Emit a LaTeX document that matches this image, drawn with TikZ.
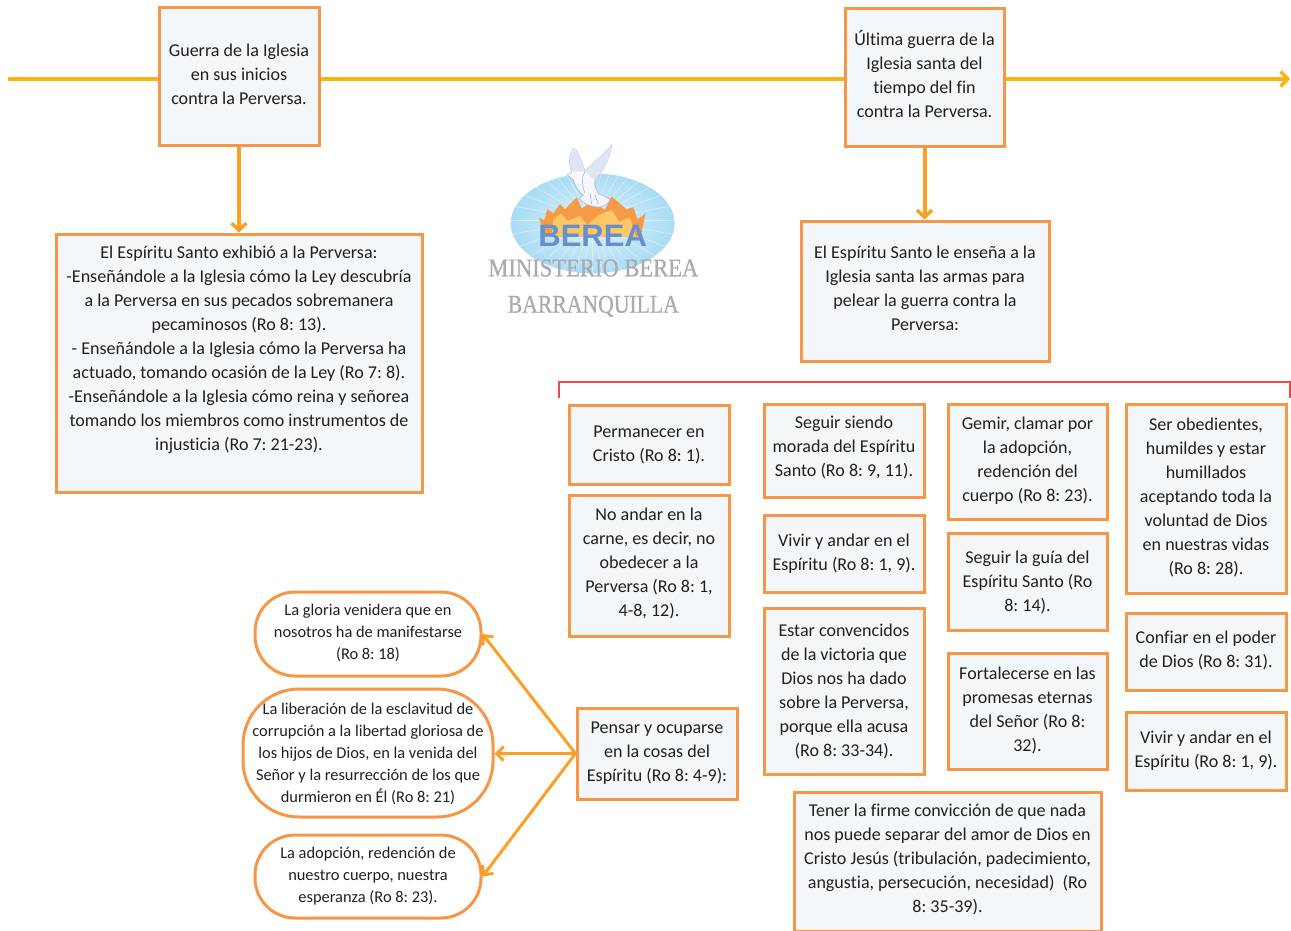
\documentclass[tikz,border=0pt]{standalone}
\usepackage{fontspec}
\usepackage{graphicx}
\setmainfont[Ligatures=NoCommon]{Carlito}
\newfontfamily\logoserif[FakeBold=0.7]{Liberation Serif}
\newfontfamily\logosans{Liberation Sans}
\usetikzlibrary{arrows.meta,shadings}
\definecolor{boxline}{HTML}{F79646}
\definecolor{boxfill}{HTML}{F3F7F9}
\definecolor{tline}{HTML}{FFB114}
\definecolor{arrowline}{HTML}{FBA024}
\definecolor{bracketred}{HTML}{F0474B}
\definecolor{logoblue}{HTML}{6690CB}
\definecolor{logogrey}{HTML}{ABABAB}
\definecolor{textgrey}{HTML}{202020}
\definecolor{skyin}{HTML}{DDF1FB}
\definecolor{skyout}{HTML}{A9DCF5}
\definecolor{flameout}{HTML}{F79A45}
\definecolor{flamein}{HTML}{FDC765}
\definecolor{doveedge}{HTML}{A9B5D6}
\definecolor{dovewing}{HTML}{DFE5F4}
\tikzset{
  sqbox/.style={draw=boxline,line width=3pt,fill=boxfill,inner sep=0pt,text=textgrey,font=\frenchspacing\fontsize{18.05}{24}\selectfont},
  rdbox/.style={draw=boxline,line width=3pt,fill=white,inner sep=0pt,text=textgrey,font=\frenchspacing\fontsize{16.4}{22}\selectfont},
  timeline/.style={draw=tline,line width=4pt,-{Straight Barb[length=7pt,width=15pt,line width=3.5pt]}},
  plainline/.style={draw=tline,line width=4pt},
  downarrow/.style={draw=arrowline,line width=4pt,-{Straight Barb[length=7pt,width=15pt,line width=3.5pt]}},
  feeder/.style={draw=arrowline,line width=3pt,-{Straight Barb[length=7pt,width=14pt,line width=3pt]}},
  logotext/.style={inner sep=0pt,text=logogrey},
}
% style, name, x0, y0, x1, y1, bottom extra, text
\newcommand{\bx}[8]{%
  \pgfmathsetmacro{\wid}{#5-#3}\pgfmathsetmacro{\hei}{#6-#4}%
  \pgfmathsetmacro{\cx}{(#3+#5)/2}\pgfmathsetmacro{\cy}{(#4+#6)/2}%
  \pgfmathsetmacro{\tw}{#5-#3-4}%
  \node[#1,minimum width=\wid pt,minimum height=\hei pt,text width=\tw pt,align=center] (#2) at (\cx,\cy) {\spaceskip=.226em\relax #8\par\vspace*{#7pt}};%
}
\begin{document}
\begin{tikzpicture}[x=1pt,y=-1pt]
\useasboundingbox (0,0) rectangle (1291,931);
\fill[white] (0,0) rectangle (1291,931);

% logo
\begin{scope}[shift={(470,130)},x=0.3333pt,y=-0.3333pt]
  \shade[inner color=skyin,outer color=skyout] (368,280) ellipse [x radius=246,y radius=150];
  \begin{scope}
    \clip (368,280) ellipse [x radius=246,y radius=150];
    \foreach \a in {0,10,...,350}{\draw[white,opacity=.4,line width=.7pt] (368,270) -- ++(\a:300);}
  \end{scope}
  \fill[flameout] (207,262) -- (222,272) -- (232,238) -- (250,250) -- (270,222) -- (285,238) -- (320,202) -- (335,235) -- (368,215) -- (405,240) -- (425,200) -- (470,238) -- (490,232) -- (503,268) -- (527,250) -- (512,320) -- (225,320) -- cycle;
  \fill[flamein] (245,320) -- (250,268) -- (272,250) -- (292,272) -- (330,258) -- (352,285) -- (385,255) -- (425,240) -- (448,275) -- (480,262) -- (498,320) -- cycle;
  \node[inner sep=0pt,text=logoblue,font={\logosans\bfseries\fontsize{31}{31}\selectfont}] (logoberea) at (368,317) {BEREA};
  \shade[top color=white,bottom color=white!85!doveedge,draw=doveedge,line width=.6pt] (345,125) .. controls (330,80) and (325,62) .. (310,55) .. controls (298,75) and (295,100) .. (305,125) -- (292,135) -- (310,150) .. controls (318,175) and (330,190) .. (340,195) -- (328,205) .. controls (340,225) and (380,235) .. (395,230) .. controls (410,225) and (420,215) .. (420,208) -- (385,190) .. controls (375,175) and (372,160) .. (375,150) .. controls (400,120) and (420,85) .. (425,45) .. controls (400,75) and (365,100) .. (345,125) -- cycle;
  \fill[dovewing] (345,125) .. controls (330,80) and (325,62) .. (310,55) .. controls (298,75) and (295,100) .. (305,125) -- cycle;
  \fill[dovewing] (375,150) .. controls (400,120) and (420,85) .. (425,45) .. controls (400,75) and (365,100) .. (345,125) -- cycle;
  \draw[doveedge,line width=.6pt] (345,125) .. controls (335,140) and (335,165) .. (345,190);
  \draw[doveedge,line width=.6pt] (360,190) -- (365,222) (375,195) -- (385,222);
  \node[logotext,font={\logoserif\fontsize{25.5}{26}\selectfont}] (logoline) at (370,414) {\scalebox{.885}[1]{MINISTERIO BEREA}};
  \node[logotext,font={\logoserif\fontsize{25.5}{26}\selectfont}] (logocity) at (370,529) {\scalebox{.85}[1]{BARRANQUILLA}};
\end{scope}

\bx{sqbox}{a}{159}{8}{319}{146}{6}{Guerra de la Iglesia\\en sus inicios\\contra la Perversa.}
\bx{sqbox}{b}{845}{9}{1004}{147}{8}{Última guerra de la\\Iglesia santa del\\tiempo del fin\\contra la Perversa.}
\bx{sqbox}{c}{56}{234}{422}{492}{26}{El Espíritu Santo exhibió a la Perversa:\\-Enseñándole a la Iglesia cómo la Ley descubría\\a la Perversa en sus pecados sobremanera\\pecaminosos (Ro 8: 13).\\- Enseñándole a la Iglesia cómo la Perversa ha\\actuado, tomando ocasión de la Ley (Ro 7: 8).\\-Enseñándole a la Iglesia cómo reina y señorea\\tomando los miembros como instrumentos de\\injusticia (Ro 7: 21-23).}
\bx{sqbox}{d}{801}{221}{1049}{361}{6}{El Espíritu Santo le enseña a la\\Iglesia santa las armas para\\pelear la guerra contra la\\Perversa:}
\bx{sqbox}{e}{569}{405}{729}{484}{0}{Permanecer en\\Cristo (Ro 8: 1).}
\bx{sqbox}{f}{569}{495}{729}{636}{4}{No andar en la\\carne, es decir, no\\obedecer a la\\Perversa (Ro 8: 1,\\4-8, 12).}
\bx{sqbox}{g}{764}{404}{924}{497}{6}{Seguir siendo\\morada del Espíritu\\Santo (Ro 8: 9, 11).}
\bx{sqbox}{h}{764}{515}{924}{592}{0}{Vivir y andar en el\\Espíritu (Ro 8: 1, 9).}
\bx{sqbox}{i}{764}{608}{924}{774}{0}{Estar convencidos\\de la victoria que\\Dios nos ha dado\\sobre la Perversa,\\porque ella acusa\\(Ro 8: 33-34).}
\bx{sqbox}{j}{948}{404}{1107}{519}{2}{Gemir, clamar por\\la adopción,\\redención del\\cuerpo (Ro 8: 23).}
\bx{sqbox}{k}{948}{533}{1107}{630}{-2}{Seguir la guía del\\Espíritu Santo (Ro\\8: 14).}
\bx{sqbox}{l}{948}{653}{1107}{769}{2}{Fortalecerse en las\\promesas eternas\\del Señor (Ro 8:\\32).}
\bx{sqbox}{m}{1126}{404}{1286}{593}{3}{Ser obedientes,\\humildes y estar\\humillados\\aceptando toda la\\voluntad de Dios\\en nuestras vidas\\(Ro 8: 28).}
\bx{sqbox}{n}{1126}{613}{1286}{690}{2}{Confiar en el poder\\de Dios (Ro 8: 31).}
\bx{sqbox}{o}{1126}{712}{1286}{790}{0}{Vivir y andar en el\\Espíritu (Ro 8: 1, 9).}
\bx{sqbox}{p}{794}{792}{1101}{931}{4}{Tener la firme convicción de que nada\\nos puede separar del amor de Dios en\\Cristo Jesús (tribulación, padecimiento,\\angustia, persecución, necesidad)\ \ (Ro\\8: 35-39).}
\bx{sqbox}{q}{577}{708}{737}{799}{0}{Pensar y ocuparse\\en la cosas del\\Espíritu (Ro 8: 4-9):}
\bx{rdbox,rounded corners=40pt}{ra}{255}{592}{481}{676}{2}{La gloria venidera que en\\nosotros ha de manifestarse\\(Ro 8: 18)}
\bx{rdbox,rounded corners=56pt}{rb}{243}{689}{493}{817}{-2}{La liberación de la esclavitud de\\corrupción a la libertad gloriosa de\\los hijos de Dios, en la venida del\\Señor y la resurrección de los que\\durmieron en Él (Ro 8: 21)}
\bx{rdbox,rounded corners=40pt}{rc}{255}{835}{481}{918}{0}{La adopción, redención de\\nuestro cuerpo, nuestra\\esperanza (Ro 8: 23).}

% connectors
\coordinate (tlstart) at (8,79);
\coordinate (tlend) at (1290,79);
\coordinate (bl) at (559,398);
\coordinate (br) at (1290,398);
\draw[plainline] (tlstart) -- (a.west |- tlstart);
\draw[plainline] (a.east |- tlstart) -- (b.west |- tlstart);
\draw[timeline] (b.east |- tlstart) -- (tlend);
\draw[downarrow] (a.south) -- (a.south |- c.north);
\draw[downarrow] (b.south) -- (b.south |- d.north);
\draw[bracketred,line width=1.6pt] (bl) -- ++(0,-16) -| (br);
\draw[feeder] (q.west) -- (ra.east);
\draw[feeder] (q.west) -- (rb.east |- q.west);
\draw[feeder] (q.west) -- (rc.east);
\end{tikzpicture}
\end{document}
